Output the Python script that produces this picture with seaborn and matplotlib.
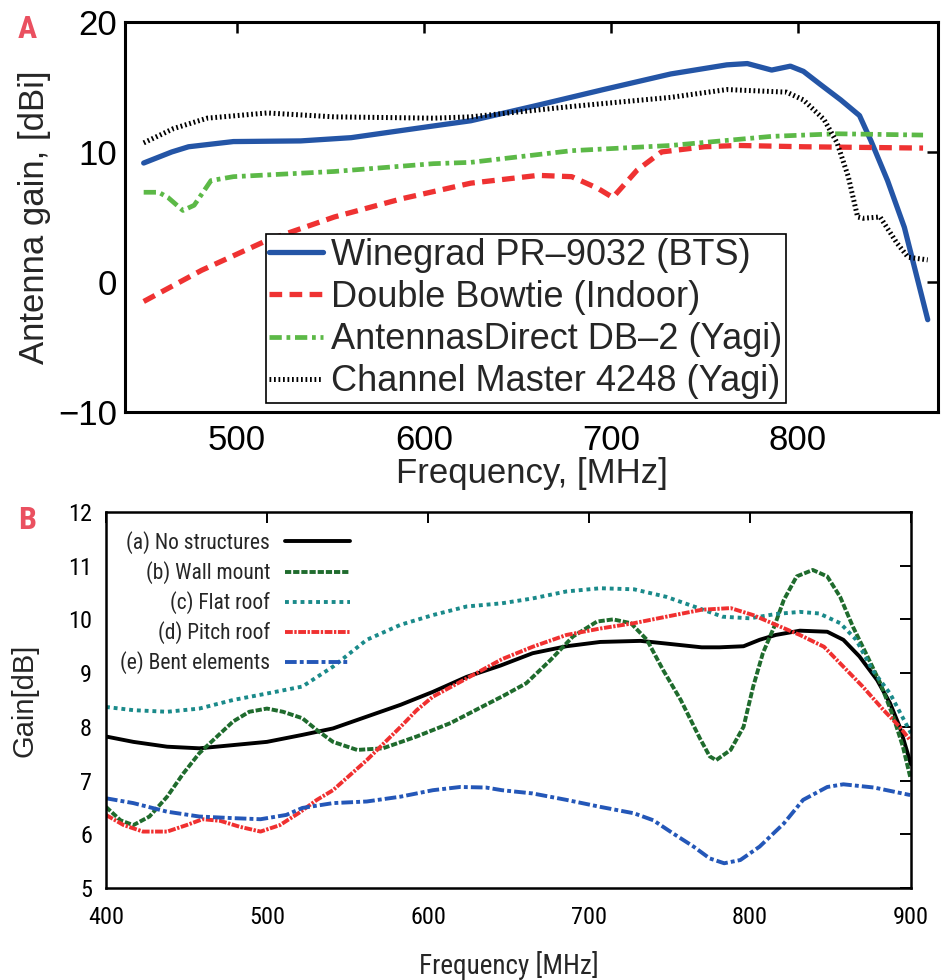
import numpy as np
import pandas as pd
import seaborn as sns
import matplotlib.pyplot as plt

import warnings
warnings.filterwarnings("ignore")

# ---- Panel A: antenna gain vs frequency ----
a_blue_f = [450, 465, 474, 498, 534, 561, 605, 625, 661, 696, 732, 762, 773, 786, 796, 803, 812, 823, 833, 839, 848, 857, 869.5]
a_blue_g = [9.15, 10.0, 10.4, 10.8, 10.85, 11.1, 12.0, 12.4, 13.6, 14.8, 16.0, 16.7, 16.8, 16.3, 16.6, 16.2, 15.2, 14.0, 12.8, 10.9, 7.8, 4.2, -2.9]

a_red_f = [450, 481, 516, 552, 588, 625, 661, 679, 693, 701, 714, 727, 750, 768, 803, 867]
a_red_g = [-1.5, 0.9, 3.2, 5.0, 6.4, 7.6, 8.2, 8.1, 7.2, 6.5, 8.6, 10.0, 10.4, 10.5, 10.4, 10.3]

a_green_f = [450, 458, 463, 471, 477, 486, 498, 552, 605, 625, 679, 732, 786, 821, 867]
a_green_g = [6.9, 6.9, 6.5, 5.5, 5.9, 7.8, 8.1, 8.5, 9.1, 9.2, 10.1, 10.5, 11.2, 11.4, 11.3]

a_black_f = [450, 466, 484, 516, 552, 605, 625, 679, 732, 762, 794, 803, 814, 821, 827, 832, 835, 844, 853, 859, 869.5]
a_black_g = [10.7, 11.8, 12.6, 13.0, 12.7, 12.6, 12.7, 13.5, 14.2, 14.8, 14.6, 14.0, 12.5, 10.7, 8.1, 5.0, 4.9, 5.0, 3.0, 1.9, 1.7]

a_labels = ["Winegrad PR–9032 (BTS)", "Double Bowtie (Indoor)",
            "AntennasDirect DB–2 (Yagi)", "Channel Master 4248 (Yagi)"]

# ---- Panel B: gain vs frequency for mounting structures ----
b_a_f = [400, 417, 438, 458, 479, 500, 522, 541, 562, 583, 603, 624, 645, 665, 686, 707, 732, 748, 770, 781, 796, 806, 816, 831, 848, 858, 868, 879, 887, 893, 900]
b_a_g = [7.82, 7.72, 7.63, 7.60, 7.66, 7.72, 7.85, 7.97, 8.19, 8.41, 8.65, 8.93, 9.14, 9.37, 9.50, 9.58, 9.60, 9.55, 9.48, 9.48, 9.50, 9.62, 9.71, 9.79, 9.77, 9.62, 9.31, 8.87, 8.44, 8.00, 7.30]

b_b_f = [400, 409, 417, 427, 438, 448, 458, 469, 479, 489, 500, 510, 522, 531, 541, 556, 572, 593, 614, 634, 647, 661, 676, 690, 705, 715, 726, 736, 746, 757, 769, 775, 779, 788, 796, 802, 808, 815, 821, 829, 839, 848, 856, 864, 872, 881, 889, 895, 899.5]
b_b_g = [6.51, 6.26, 6.17, 6.33, 6.70, 7.13, 7.51, 7.82, 8.10, 8.28, 8.34, 8.28, 8.16, 7.94, 7.72, 7.57, 7.60, 7.82, 8.07, 8.38, 8.58, 8.81, 9.24, 9.68, 9.96, 10.00, 9.93, 9.62, 9.06, 8.50, 7.78, 7.45, 7.38, 7.57, 8.00, 8.75, 9.37, 9.86, 10.36, 10.80, 10.92, 10.80, 10.42, 9.86, 9.37, 8.81, 8.19, 7.63, 7.07]

b_c_f = [400, 417, 438, 458, 479, 500, 522, 541, 562, 583, 603, 624, 646, 665, 686, 707, 728, 748, 769, 783, 800, 816, 831, 843, 856, 866, 876, 887, 900]
b_c_g = [8.37, 8.31, 8.28, 8.34, 8.50, 8.62, 8.75, 9.12, 9.62, 9.90, 10.08, 10.24, 10.30, 10.39, 10.52, 10.58, 10.56, 10.42, 10.20, 10.05, 10.02, 10.10, 10.14, 10.11, 9.93, 9.62, 9.06, 8.62, 7.88]

b_d_f = [400, 411, 423, 438, 450, 460, 471, 483, 496, 508, 520, 531, 541, 562, 583, 593, 603, 624, 646, 665, 686, 707, 728, 748, 770, 788, 802, 816, 831, 846, 858, 870, 883, 893, 899.5]
b_d_g = [6.36, 6.17, 6.05, 6.05, 6.17, 6.28, 6.25, 6.14, 6.05, 6.17, 6.40, 6.64, 6.82, 7.38, 8.00, 8.31, 8.56, 8.90, 9.26, 9.49, 9.71, 9.83, 9.93, 10.05, 10.18, 10.21, 10.08, 9.90, 9.71, 9.49, 9.12, 8.75, 8.31, 8.00, 7.75]

b_e_f = [400, 417, 438, 458, 479, 496, 512, 522, 541, 562, 583, 603, 620, 636, 646, 665, 686, 707, 728, 740, 752, 765, 775, 784, 794, 806, 821, 833, 848, 858, 877, 899.5]
b_e_g = [6.67, 6.58, 6.42, 6.33, 6.30, 6.28, 6.36, 6.49, 6.58, 6.61, 6.70, 6.82, 6.88, 6.87, 6.82, 6.76, 6.64, 6.51, 6.39, 6.26, 6.02, 5.77, 5.55, 5.46, 5.52, 5.77, 6.20, 6.64, 6.88, 6.93, 6.87, 6.73]

b_labels = ["(a) No structures", "(b) Wall mount", "(c) Flat roof",
            "(d) Pitch roof", "(e) Bent elements"]

sns.set_theme(style="white")
plt.rcParams['font.family'] = ['Liberation Sans', 'DejaVu Sans']
narrow = ['Roboto Condensed', 'DejaVu Sans']

fig = plt.figure(figsize=(9.52, 9.8), dpi=100)
axA = fig.add_axes([0.1313, 0.5796, 0.854, 0.398])
axB = fig.add_axes([0.1113, 0.0939, 0.8456, 0.3837])

# panel A
sns.lineplot(x=a_blue_f, y=a_blue_g, ax=axA, color='#2455a6', lw=3.8, label=a_labels[0], legend=False)
sns.lineplot(x=a_red_f, y=a_red_g, ax=axA, color='#ef3232', lw=3.8,
             linestyle=(0, (2.4, 1.4)), label=a_labels[1], legend=False)
sns.lineplot(x=a_green_f, y=a_green_g, ax=axA, color='#5cb947', lw=3.4,
             linestyle=(0, (2.6, 1.0, 0.8, 1.0)), label=a_labels[2], legend=False)
sns.lineplot(x=a_black_f, y=a_black_g, ax=axA, color='black', lw=3.6,
             linestyle=(0, (0.35, 0.55)), label=a_labels[3], legend=False)

axA.set_xlim(440, 875)
axA.set_ylim(-10, 20)
axA.set_xticks([500, 600, 700, 800])
axA.set_yticks([-10, 0, 10, 20])
axA.set_yticklabels(['−10', '0', '10', '20'])
axA.tick_params(direction='in', top=True, right=True, length=8, width=1.8,
                labelsize=25, colors='black')
axA.tick_params(axis='x', pad=8.5)
axA.tick_params(axis='y', pad=5.5)
for s in axA.spines.values():
    s.set_linewidth(2.2)
    s.set_color('black')
axA.set_xlabel("Frequency, [MHz]", fontsize=25)
axA.set_ylabel("Antenna gain, [dBi]", fontsize=25)
axA.xaxis.set_label_coords(0.5, -0.115)
axA.yaxis.set_label_coords(-0.091, 0.5)
legA = axA.legend(loc='lower left', bbox_to_anchor=(0.173, 0.023), borderaxespad=0,
                  fontsize=26, frameon=True, fancybox=False, edgecolor='black',
                  framealpha=1, handlelength=1.5, handletextpad=0.2,
                  labelspacing=0.2, borderpad=0.1)
legA.get_frame().set_linewidth(1.2)

# panel B
sns.lineplot(x=b_a_f, y=b_a_g, ax=axB, color='black', lw=2.8, label=b_labels[0], legend=False)
sns.lineplot(x=b_b_f, y=b_b_g, ax=axB, color='#1f6b2d', lw=2.8,
             linestyle=(0, (1.6, 0.5)), label=b_labels[1], legend=False)
sns.lineplot(x=b_c_f, y=b_c_g, ax=axB, color='#1a8a8a', lw=2.8,
             linestyle=(0, (1.0, 1.0)), label=b_labels[2], legend=False)
sns.lineplot(x=b_d_f, y=b_d_g, ax=axB, color='#f03030', lw=2.8,
             linestyle=(0, (2.0, 0.4, 0.6, 0.4)), label=b_labels[3], legend=False)
sns.lineplot(x=b_e_f, y=b_e_g, ax=axB, color='#2457b8', lw=2.8,
             linestyle=(0, (3.0, 0.8, 1.0, 0.8)), label=b_labels[4], legend=False)

axB.set_xlim(400, 900)
axB.set_ylim(5, 12)
axB.set_xticks(range(400, 901, 100))
axB.set_yticks(range(5, 13))
axB.tick_params(direction='in', top=True, right=True, length=8, width=1.4,
                labelsize=17.5, colors='black')
axB.tick_params(axis='x', pad=13)
axB.tick_params(axis='y', pad=10)
for lab in axB.get_xticklabels() + axB.get_yticklabels():
    lab.set_family(narrow)
for s in axB.spines.values():
    s.set_linewidth(1.8)
    s.set_color('black')
axB.set_xlabel("Frequency [MHz]", fontsize=19.5, family=narrow)
axB.set_ylabel("Gain[dB]", fontsize=21)
axB.xaxis.set_label_coords(0.5, -0.168)
axB.yaxis.set_label_coords(-0.084, 0.5)
legB = axB.legend(loc='upper right', bbox_to_anchor=(0.303, 0.949), borderaxespad=0,
                  frameon=False, markerfirst=False, handlelength=3.0,
                  handletextpad=0.7, labelspacing=0.33, borderpad=0,
                  prop={'family': narrow, 'size': 15.5})

fig.text(27 / 952, 1 - 29 / 980, 'A', ha='center', va='center', fontsize=23,
         fontweight='bold', color='#ea5060', family=narrow)
fig.text(27 / 952, 1 - 520 / 980, 'B', ha='center', va='center', fontsize=23,
         fontweight='bold', color='#ea5060', family=narrow)

plt.savefig('out.png', dpi=100)
